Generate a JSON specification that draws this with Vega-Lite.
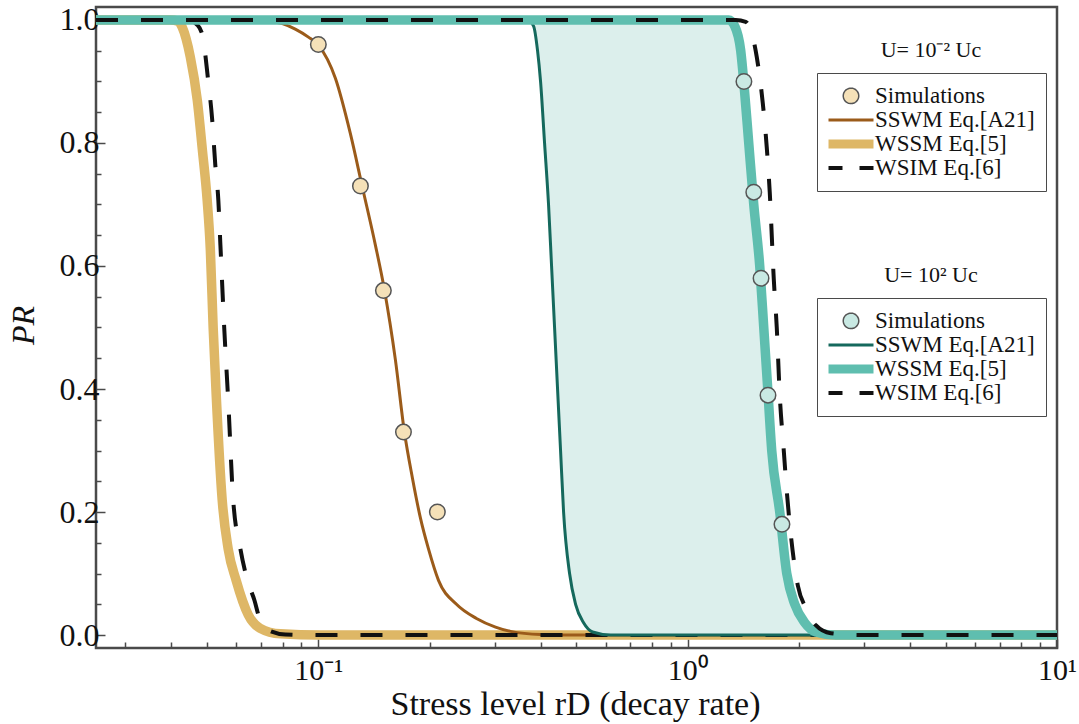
{
  "$schema": "https://vega.github.io/schema/vega-lite/v6.json",
  "width": 961,
  "height": 641,
  "autosize": {"type": "none"},
  "padding": {"left": 96, "top": 7, "right": 22, "bottom": 76},
  "background": "#ffffff",
  "config": {
    "view": {"stroke": "#4a4a4a", "strokeWidth": 2.5},
    "font": "Liberation Serif",
    "axis": {
      "grid": false,
      "domain": false,
      "tickColor": "#4a4a4a",
      "tickWidth": 1.5,
      "labelFont": "Liberation Serif",
      "labelFontSize": 30,
      "labelColor": "#111111",
      "titleFont": "Liberation Serif",
      "titleFontWeight": "normal",
      "titleColor": "#111111",
      "labelFlush": false,
      "labelOverlap": false,
      "labelBound": false
    },
    "legend": {
      "orient": "none",
      "padding": 11,
      "strokeColor": "#4a4a4a",
      "fillColor": "#ffffff",
      "labelFont": "Liberation Serif",
      "labelFontSize": 23,
      "labelColor": "#111111",
      "labelOffset": 0,
      "symbolOffset": -1,
      "symbolSize": 2025,
      "clipHeight": 23.75,
      "rowPadding": 0,
      "labelLimit": 400
    }
  },
  "datasets": {
    "lowWSSM": [
      {"s": "WSSM Eq.[5]", "x": 0.025, "p": 1},
      {"s": "WSSM Eq.[5]", "x": 0.0397, "p": 1},
      {"s": "WSSM Eq.[5]", "x": 0.0417, "p": 0.998},
      {"s": "WSSM Eq.[5]", "x": 0.0428, "p": 0.988},
      {"s": "WSSM Eq.[5]", "x": 0.045, "p": 0.94},
      {"s": "WSSM Eq.[5]", "x": 0.047, "p": 0.87},
      {"s": "WSSM Eq.[5]", "x": 0.0485, "p": 0.79},
      {"s": "WSSM Eq.[5]", "x": 0.05, "p": 0.707},
      {"s": "WSSM Eq.[5]", "x": 0.051, "p": 0.626},
      {"s": "WSSM Eq.[5]", "x": 0.0519, "p": 0.5},
      {"s": "WSSM Eq.[5]", "x": 0.0529, "p": 0.39},
      {"s": "WSSM Eq.[5]", "x": 0.0549, "p": 0.22},
      {"s": "WSSM Eq.[5]", "x": 0.057, "p": 0.14},
      {"s": "WSSM Eq.[5]", "x": 0.0599, "p": 0.089},
      {"s": "WSSM Eq.[5]", "x": 0.0646, "p": 0.033},
      {"s": "WSSM Eq.[5]", "x": 0.0696, "p": 0.011},
      {"s": "WSSM Eq.[5]", "x": 0.0789, "p": 0.002},
      {"s": "WSSM Eq.[5]", "x": 0.1013, "p": 0},
      {"s": "WSSM Eq.[5]", "x": 10, "p": 0}
    ],
    "lowSSWM": [
      {"s": "SSWM Eq.[A21]", "x": 0.025, "p": 1},
      {"s": "SSWM Eq.[A21]", "x": 0.0675, "p": 1},
      {"s": "SSWM Eq.[A21]", "x": 0.0741, "p": 0.998},
      {"s": "SSWM Eq.[A21]", "x": 0.0799, "p": 0.994},
      {"s": "SSWM Eq.[A21]", "x": 0.0866, "p": 0.985},
      {"s": "SSWM Eq.[A21]", "x": 0.094, "p": 0.972},
      {"s": "SSWM Eq.[A21]", "x": 0.1, "p": 0.959},
      {"s": "SSWM Eq.[A21]", "x": 0.1112, "p": 0.905},
      {"s": "SSWM Eq.[A21]", "x": 0.1221, "p": 0.815},
      {"s": "SSWM Eq.[A21]", "x": 0.1316, "p": 0.728},
      {"s": "SSWM Eq.[A21]", "x": 0.1427, "p": 0.634},
      {"s": "SSWM Eq.[A21]", "x": 0.151, "p": 0.561},
      {"s": "SSWM Eq.[A21]", "x": 0.1617, "p": 0.447},
      {"s": "SSWM Eq.[A21]", "x": 0.171, "p": 0.33},
      {"s": "SSWM Eq.[A21]", "x": 0.1798, "p": 0.255},
      {"s": "SSWM Eq.[A21]", "x": 0.189, "p": 0.19},
      {"s": "SSWM Eq.[A21]", "x": 0.1987, "p": 0.14},
      {"s": "SSWM Eq.[A21]", "x": 0.2115, "p": 0.089},
      {"s": "SSWM Eq.[A21]", "x": 0.2366, "p": 0.05},
      {"s": "SSWM Eq.[A21]", "x": 0.268, "p": 0.027},
      {"s": "SSWM Eq.[A21]", "x": 0.3018, "p": 0.013},
      {"s": "SSWM Eq.[A21]", "x": 0.3314, "p": 0.006},
      {"s": "SSWM Eq.[A21]", "x": 0.3996, "p": 0.001},
      {"s": "SSWM Eq.[A21]", "x": 0.5129, "p": 0},
      {"s": "SSWM Eq.[A21]", "x": 10, "p": 0}
    ],
    "lowWSIM": [
      {"s": "WSIM Eq.[6]", "x": 0.025, "p": 1},
      {"s": "WSIM Eq.[6]", "x": 0.0444, "p": 1},
      {"s": "WSIM Eq.[6]", "x": 0.047, "p": 0.992},
      {"s": "WSIM Eq.[6]", "x": 0.0485, "p": 0.976},
      {"s": "WSIM Eq.[6]", "x": 0.0503, "p": 0.902},
      {"s": "WSIM Eq.[6]", "x": 0.0516, "p": 0.837},
      {"s": "WSIM Eq.[6]", "x": 0.0526, "p": 0.764},
      {"s": "WSIM Eq.[6]", "x": 0.0536, "p": 0.707},
      {"s": "WSIM Eq.[6]", "x": 0.0543, "p": 0.634},
      {"s": "WSIM Eq.[6]", "x": 0.0556, "p": 0.5},
      {"s": "WSIM Eq.[6]", "x": 0.057, "p": 0.382},
      {"s": "WSIM Eq.[6]", "x": 0.0588, "p": 0.22},
      {"s": "WSIM Eq.[6]", "x": 0.0615, "p": 0.14},
      {"s": "WSIM Eq.[6]", "x": 0.0642, "p": 0.09},
      {"s": "WSIM Eq.[6]", "x": 0.0671, "p": 0.057},
      {"s": "WSIM Eq.[6]", "x": 0.0692, "p": 0.028},
      {"s": "WSIM Eq.[6]", "x": 0.0732, "p": 0.008},
      {"s": "WSIM Eq.[6]", "x": 0.0814, "p": 0.001},
      {"s": "WSIM Eq.[6]", "x": 0.1013, "p": 0},
      {"s": "WSIM Eq.[6]", "x": 10, "p": 0}
    ],
    "lowSims": [
      {"x": 0.10, "p": 0.96},
      {"x": 0.13, "p": 0.73},
      {"x": 0.15, "p": 0.56},
      {"x": 0.17, "p": 0.33},
      {"x": 0.21, "p": 0.20}
    ],
    "band": [
      {"p": 1.0, "xl": 0.3685, "xr": 1.2915},
      {"p": 0.99, "xl": 0.3826, "xr": 1.3409},
      {"p": 0.95, "xl": 0.3922, "xr": 1.3919},
      {"p": 0.9, "xl": 0.3996, "xr": 1.4184},
      {"p": 0.8, "xl": 0.4097, "xr": 1.4632},
      {"p": 0.7, "xl": 0.42, "xr": 1.5097},
      {"p": 0.6, "xl": 0.428, "xr": 1.5671},
      {"p": 0.5, "xl": 0.4361, "xr": 1.6069},
      {"p": 0.4, "xl": 0.4443, "xr": 1.6474},
      {"p": 0.3, "xl": 0.4527, "xr": 1.6889},
      {"p": 0.2, "xl": 0.4613, "xr": 1.7754},
      {"p": 0.1, "xl": 0.4789, "xr": 1.8548},
      {"p": 0.05, "xl": 0.4972, "xr": 1.9498},
      {"p": 0.02, "xl": 0.5226, "xr": 2.0754},
      {"p": 0.005, "xl": 0.5527, "xr": 2.2228},
      {"p": 0, "xl": 0.6185, "xr": 2.5183}
    ],
    "highSSWM": [
      {"s": "SSWM Eq.[A21]", "x": 0.025, "p": 1},
      {"s": "SSWM Eq.[A21]", "x": 0.3685, "p": 1},
      {"s": "SSWM Eq.[A21]", "x": 0.3826, "p": 0.99},
      {"s": "SSWM Eq.[A21]", "x": 0.3922, "p": 0.95},
      {"s": "SSWM Eq.[A21]", "x": 0.3996, "p": 0.9},
      {"s": "SSWM Eq.[A21]", "x": 0.4097, "p": 0.8},
      {"s": "SSWM Eq.[A21]", "x": 0.42, "p": 0.7},
      {"s": "SSWM Eq.[A21]", "x": 0.428, "p": 0.6},
      {"s": "SSWM Eq.[A21]", "x": 0.4361, "p": 0.5},
      {"s": "SSWM Eq.[A21]", "x": 0.4443, "p": 0.4},
      {"s": "SSWM Eq.[A21]", "x": 0.4527, "p": 0.3},
      {"s": "SSWM Eq.[A21]", "x": 0.4613, "p": 0.2},
      {"s": "SSWM Eq.[A21]", "x": 0.4789, "p": 0.1},
      {"s": "SSWM Eq.[A21]", "x": 0.4972, "p": 0.05},
      {"s": "SSWM Eq.[A21]", "x": 0.5226, "p": 0.02},
      {"s": "SSWM Eq.[A21]", "x": 0.5527, "p": 0.005},
      {"s": "SSWM Eq.[A21]", "x": 0.6185, "p": 0},
      {"s": "SSWM Eq.[A21]", "x": 10, "p": 0}
    ],
    "highWSSM": [
      {"s": "WSSM Eq.[5]", "x": 0.025, "p": 1},
      {"s": "WSSM Eq.[5]", "x": 1.2915, "p": 1},
      {"s": "WSSM Eq.[5]", "x": 1.3409, "p": 0.99},
      {"s": "WSSM Eq.[5]", "x": 1.3919, "p": 0.95},
      {"s": "WSSM Eq.[5]", "x": 1.4184, "p": 0.9},
      {"s": "WSSM Eq.[5]", "x": 1.4632, "p": 0.8},
      {"s": "WSSM Eq.[5]", "x": 1.5097, "p": 0.7},
      {"s": "WSSM Eq.[5]", "x": 1.5671, "p": 0.6},
      {"s": "WSSM Eq.[5]", "x": 1.6069, "p": 0.5},
      {"s": "WSSM Eq.[5]", "x": 1.6474, "p": 0.4},
      {"s": "WSSM Eq.[5]", "x": 1.6889, "p": 0.3},
      {"s": "WSSM Eq.[5]", "x": 1.7754, "p": 0.2},
      {"s": "WSSM Eq.[5]", "x": 1.8548, "p": 0.1},
      {"s": "WSSM Eq.[5]", "x": 1.9498, "p": 0.05},
      {"s": "WSSM Eq.[5]", "x": 2.0754, "p": 0.02},
      {"s": "WSSM Eq.[5]", "x": 2.2228, "p": 0.005},
      {"s": "WSSM Eq.[5]", "x": 2.5183, "p": 0},
      {"s": "WSSM Eq.[5]", "x": 10, "p": 0}
    ],
    "highWSIM": [
      {"s": "WSIM Eq.[6]", "x": 0.025, "p": 1},
      {"s": "WSIM Eq.[6]", "x": 1.3493, "p": 1},
      {"s": "WSIM Eq.[6]", "x": 1.4361, "p": 0.997},
      {"s": "WSIM Eq.[6]", "x": 1.5382, "p": 0.94},
      {"s": "WSIM Eq.[6]", "x": 1.597, "p": 0.865},
      {"s": "WSIM Eq.[6]", "x": 1.6372, "p": 0.793},
      {"s": "WSIM Eq.[6]", "x": 1.668, "p": 0.72},
      {"s": "WSIM Eq.[6]", "x": 1.7104, "p": 0.579},
      {"s": "WSIM Eq.[6]", "x": 1.7426, "p": 0.5},
      {"s": "WSIM Eq.[6]", "x": 1.7754, "p": 0.39},
      {"s": "WSIM Eq.[6]", "x": 1.8205, "p": 0.3},
      {"s": "WSIM Eq.[6]", "x": 1.8548, "p": 0.234},
      {"s": "WSIM Eq.[6]", "x": 1.8897, "p": 0.18},
      {"s": "WSIM Eq.[6]", "x": 1.9865, "p": 0.081},
      {"s": "WSIM Eq.[6]", "x": 2.0883, "p": 0.044},
      {"s": "WSIM Eq.[6]", "x": 2.2228, "p": 0.016},
      {"s": "WSIM Eq.[6]", "x": 2.4406, "p": 0.003},
      {"s": "WSIM Eq.[6]", "x": 2.9431, "p": 0},
      {"s": "WSIM Eq.[6]", "x": 10, "p": 0}
    ],
    "highSims": [
      {"x": 1.42, "p": 0.90},
      {"x": 1.51, "p": 0.72},
      {"x": 1.58, "p": 0.58},
      {"x": 1.65, "p": 0.39},
      {"x": 1.80, "p": 0.18}
    ],
    "notes": [
      {"label": "U= 10⁻² Uc", "lx": 4.556, "ly": 0.951},
      {"label": "U= 10² Uc", "lx": 4.556, "ly": 0.585}
    ]
  },
  "encoding": {
    "x": {
      "field": "x",
      "type": "quantitative",
      "scale": {"type": "log", "domain": [0.025, 10], "nice": false},
      "axis": {
        "title": "Stress level rD (decay rate)",
        "titleFontSize": 34,
        "titleX": 479,
        "titleY": 66,
        "titleAlign": "center",
        "titleBaseline": "alphabetic",
        "values": [0.03, 0.04, 0.05, 0.06, 0.07, 0.08, 0.09, 0.1, 0.2, 0.3, 0.4, 0.5, 0.6, 0.7, 0.8, 0.9, 1, 2, 3, 4, 5, 6, 7, 8, 9, 10],
        "labelExpr": "datum.value === 0.1 ? '10⁻¹' : datum.value === 1 ? '10⁰' : datum.value === 10 ? '10¹' : ''",
        "tickSize": {"condition": {"test": "datum.value === 0.1 || datum.value === 1 || datum.value === 10", "value": -9}, "value": -6},
        "labelPadding": 16
      }
    },
    "y": {
      "field": "p",
      "type": "quantitative",
      "scale": {"domain": [-0.021, 1.021], "nice": false, "zero": false},
      "axis": {
        "title": "PR",
        "titleFontSize": 32,
        "titleFontStyle": "italic",
        "titleX": -73,
        "titleY": 318,
        "titleAngle": 270,
        "titleAlign": "center",
        "titleBaseline": "middle",
        "values": [0, 0.05, 0.1, 0.15, 0.2, 0.25, 0.3, 0.35, 0.4, 0.45, 0.5, 0.55, 0.6, 0.65, 0.7, 0.75, 0.8, 0.85, 0.9, 0.95, 1],
        "labelExpr": "abs(datum.value * 5 - round(datum.value * 5)) < 0.001 ? format(datum.value, '.1f') : ''",
        "tickSize": {"condition": {"test": "abs(datum.value * 5 - round(datum.value * 5)) < 0.001", "value": -9}, "value": -5},
        "labelFontSize": 32,
        "labelPadding": 6
      }
    }
  },
  "layer": [
    {
      "layer": [
        {
          "data": {"name": "lowWSSM"},
          "mark": {"type": "line", "strokeWidth": 9.5, "interpolate": "monotone", "clip": true},
          "encoding": {
            "stroke": {
              "field": "s", "type": "nominal",
              "scale": {"domain": ["Simulations", "SSWM Eq.[A21]", "WSSM Eq.[5]", "WSIM Eq.[6]"], "range": ["#555555", "#9B5B1A", "#DEB766", "#111111"]},
              "legend": {
                "orient": "none", "legendX": 721, "legendY": 66, "title": null,
                "encode": {"symbols": {"update": {
                  "shape": {"signal": "(datum.value === 'Simulations' ? 'circle' : 'stroke')"},
                  "size": {"signal": "(datum.value === 'Simulations' ? 240 : 2025)"},
                  "fill": {"signal": "(datum.value === 'Simulations' ? '#F5E1B8' : 'transparent')"},
                  "strokeWidth": {"signal": "(datum.value === 'Simulations' ? 1.5 : datum.value === 'WSSM Eq.[5]' ? 9 : datum.value === 'WSIM Eq.[6]' ? 4 : 3)"},
                  "strokeDash": {"signal": "(datum.value === 'WSIM Eq.[6]' ? [14, 17] : [1, 0])"}
                }}}
              }
            }
          }
        },
        {
          "data": {"name": "lowSSWM"},
          "mark": {"type": "line", "strokeWidth": 3, "interpolate": "monotone", "clip": true},
          "encoding": {
            "stroke": {
              "field": "s", "type": "nominal",
              "scale": {"domain": ["Simulations", "SSWM Eq.[A21]", "WSSM Eq.[5]", "WSIM Eq.[6]"], "range": ["#555555", "#9B5B1A", "#DEB766", "#111111"]}
            }
          }
        },
        {
          "data": {"name": "lowWSIM"},
          "mark": {"type": "line", "strokeWidth": 4, "strokeDash": [22, 23], "interpolate": "monotone", "clip": true},
          "encoding": {
            "stroke": {
              "field": "s", "type": "nominal",
              "scale": {"domain": ["Simulations", "SSWM Eq.[A21]", "WSSM Eq.[5]", "WSIM Eq.[6]"], "range": ["#555555", "#9B5B1A", "#DEB766", "#111111"]}
            }
          }
        },
        {
          "data": {"name": "lowSims"},
          "mark": {"type": "point", "shape": "circle", "filled": true, "fill": "#F5E1B8", "stroke": "#555555", "strokeWidth": 1.5, "size": 240, "opacity": 1}
        }
      ]
    },
    {
      "layer": [
        {
          "data": {"name": "band"},
          "mark": {"type": "area", "orient": "horizontal", "color": "#DCEFEC", "opacity": 1, "interpolate": "monotone", "clip": true},
          "encoding": {
            "x": {"field": "xl", "type": "quantitative"},
            "x2": {"field": "xr"}
          }
        },
        {
          "data": {"name": "highSSWM"},
          "mark": {"type": "line", "strokeWidth": 3, "interpolate": "monotone", "clip": true},
          "encoding": {
            "stroke": {
              "field": "s", "type": "nominal",
              "scale": {"domain": ["Simulations", "SSWM Eq.[A21]", "WSSM Eq.[5]", "WSIM Eq.[6]"], "range": ["#555555", "#15695D", "#5FBEAF", "#111111"]},
              "legend": {
                "orient": "none", "legendX": 721, "legendY": 291, "title": null,
                "encode": {"symbols": {"update": {
                  "shape": {"signal": "(datum.value === 'Simulations' ? 'circle' : 'stroke')"},
                  "size": {"signal": "(datum.value === 'Simulations' ? 240 : 2025)"},
                  "fill": {"signal": "(datum.value === 'Simulations' ? '#C9E9E3' : 'transparent')"},
                  "strokeWidth": {"signal": "(datum.value === 'Simulations' ? 1.5 : datum.value === 'WSSM Eq.[5]' ? 9 : datum.value === 'WSIM Eq.[6]' ? 4 : 3)"},
                  "strokeDash": {"signal": "(datum.value === 'WSIM Eq.[6]' ? [14, 17] : [1, 0])"}
                }}}
              }
            }
          }
        },
        {
          "data": {"name": "highWSSM"},
          "mark": {"type": "line", "strokeWidth": 9.5, "interpolate": "monotone", "clip": true},
          "encoding": {
            "stroke": {
              "field": "s", "type": "nominal",
              "scale": {"domain": ["Simulations", "SSWM Eq.[A21]", "WSSM Eq.[5]", "WSIM Eq.[6]"], "range": ["#555555", "#15695D", "#5FBEAF", "#111111"]}
            }
          }
        },
        {
          "data": {"name": "highWSIM"},
          "mark": {"type": "line", "strokeWidth": 4, "strokeDash": [22, 23], "interpolate": "monotone", "clip": true},
          "encoding": {
            "stroke": {
              "field": "s", "type": "nominal",
              "scale": {"domain": ["Simulations", "SSWM Eq.[A21]", "WSSM Eq.[5]", "WSIM Eq.[6]"], "range": ["#555555", "#15695D", "#5FBEAF", "#111111"]}
            }
          }
        },
        {
          "data": {"name": "highSims"},
          "mark": {"type": "point", "shape": "circle", "filled": true, "fill": "#C9E9E3", "stroke": "#555555", "strokeWidth": 1.5, "size": 240, "opacity": 1}
        }
      ]
    },
    {
      "data": {"name": "notes"},
      "mark": {"type": "text", "font": "Liberation Serif", "fontSize": 22, "fill": "#111111", "align": "center", "baseline": "middle"},
      "encoding": {
        "x": {"field": "lx", "type": "quantitative"},
        "y": {"field": "ly", "type": "quantitative"},
        "text": {"field": "label", "type": "nominal"}
      }
    }
  ],
  "resolve": {"scale": {"stroke": "independent"}}
}
